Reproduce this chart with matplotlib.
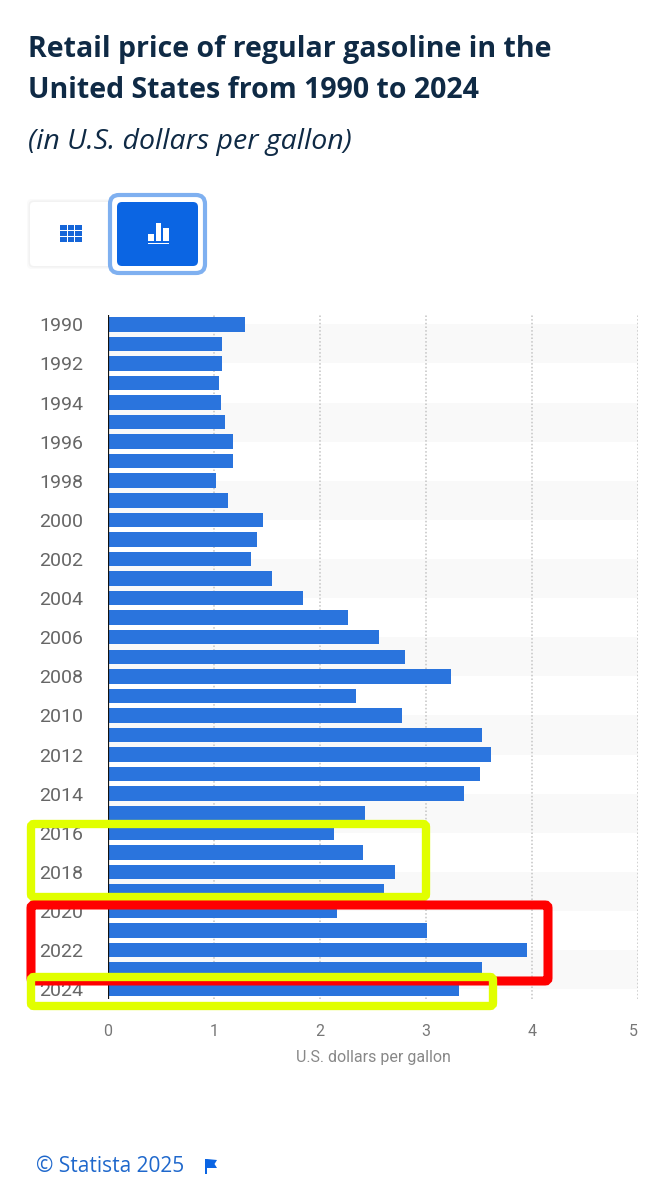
#!/usr/bin/env python3
import matplotlib.pyplot as plt
from matplotlib.patches import FancyBboxPatch, Polygon, Rectangle

WIDTH, HEIGHT = 669, 1200

years = list(range(1990, 2025))
prices = [
    1.29, 1.08, 1.08, 1.05, 1.07, 1.10, 1.18, 1.18, 1.02, 1.13,
    1.46, 1.41, 1.35, 1.55, 1.84, 2.26, 2.56, 2.80, 3.24, 2.34,
    2.77, 3.53, 3.61, 3.51, 3.36, 2.42, 2.13, 2.41, 2.71, 2.60,
    2.16, 3.01, 3.95, 3.53, 3.31,
]
year_labels = years[::2]
x_ticks = [0, 1, 2, 3, 4, 5]

BLUE = "#2A74DD"
BUTTON_BLUE = "#0B65E3"
NAVY = "#0F2A45"
LIME = "#E1FF00"
RED = "#FF0000"


def px_axes_rect(left, top, right, bottom):
    return [left / WIDTH, 1 - bottom / HEIGHT, (right - left) / WIDTH, (bottom - top) / HEIGHT]


def rounded(ax, left, top, right, bottom, radius=3, **kwargs):
    patch = FancyBboxPatch(
        (left, top), right - left, bottom - top,
        boxstyle=f"round,pad=0,rounding_size={radius}", **kwargs,
    )
    ax.add_patch(patch)
    return patch


fig = plt.figure(figsize=(WIDTH / 100, HEIGHT / 100), dpi=100, facecolor="white")

# chart
ax = fig.add_axes(px_axes_rect(108, 314.5, 638, 999))
ax.set_xlim(0, 5)
ax.set_ylim(years[-1] + 0.5, years[0] - 0.5)
for start in years[::4]:
    ax.axhspan(start, start + 2, color="#F9F9F9", linewidth=0, zorder=0)
for tick in x_ticks[1:]:
    ax.axvline(tick, color="#C4C4C4", linewidth=1.1, linestyle=(0, (1, 1.4)), zorder=1)
ax.barh(years, prices, height=0.74, color=BLUE, zorder=2)
ax.axvline(0, color="#111111", linewidth=1.6, zorder=3)

for side in ("top", "right", "bottom", "left"):
    ax.spines[side].set_visible(False)
ax.set_yticks(year_labels)
ax.set_yticklabels(year_labels, fontfamily="Roboto", fontsize=14, color="#666666")
ax.set_xticks(x_ticks)
ax.set_xticklabels(x_ticks, fontfamily="Roboto", fontsize=11.5, color="#777777")
ax.get_xticklabels()[-1].set_ha("right")
ax.tick_params(axis="y", length=0, pad=18)
ax.tick_params(axis="x", length=0, pad=18)
ax.set_xlabel("U.S. dollars per gallon", fontfamily="Roboto", fontsize=11.5, color="#888888", labelpad=14)
ax.xaxis.set_label_coords(0.50, -0.0745)

# everything that is not data, in reference pixels
over = fig.add_axes([0, 0, 1, 1], zorder=5)
over.set_xlim(0, WIDTH)
over.set_ylim(HEIGHT, 0)
over.axis("off")
over.patch.set_alpha(0)

over.text(28, 49, "Retail price of regular gasoline in the", fontfamily="Open Sans",
          fontweight="bold", fontsize=20.5, color=NAVY, va="center")
over.text(28, 91, "United States from 1990 to 2024", fontfamily="Open Sans",
          fontweight="bold", fontsize=20.5, color=NAVY, va="center")
over.text(28, 142, "(in U.S. dollars per gallon)", fontfamily="Open Sans",
          fontstyle="italic", fontsize=20.5, color=NAVY, va="center")

# view switch buttons
for grow, shade in ((3, "#FAFAFA"), (1.5, "#F2F2F2")):
    rounded(over, 30 - grow, 202 - grow, 112 + grow, 266 + grow, radius=5, facecolor=shade, linewidth=0)
rounded(over, 30, 202, 112, 266, radius=4, facecolor="white", linewidth=0)
rounded(over, 110, 195, 205, 273, radius=9, facecolor="white", edgecolor="#7FB0F0", linewidth=3)
rounded(over, 117, 202, 198, 266, radius=5, facecolor=BUTTON_BLUE, linewidth=0)

for col in range(3):
    for row in range(3):
        over.add_patch(Rectangle((60 + col * 7.6, 224.5 + row * 6.2), 6.6, 5.2, facecolor="#1565D8", linewidth=0))
for left, top in ((148, 234), (155.5, 223), (163, 228)):
    over.add_patch(Rectangle((left, top), 5.5, 241 - top, facecolor="white", linewidth=0))
over.add_patch(Rectangle((147.5, 242.5), 21.5, 1.8, facecolor="white", linewidth=0))

# hand-drawn highlights on top of the chart
rounded(over, 31, 824, 426, 897, facecolor="none", edgecolor=LIME, linewidth=6)
rounded(over, 31, 905, 548, 981, facecolor="none", edgecolor=RED, linewidth=6.5)
rounded(over, 31, 977, 493, 1006, facecolor="none", edgecolor=LIME, linewidth=6)

# footer
over.text(36, 1166, "© Statista 2025", fontfamily="Open Sans", fontsize=15, color="#1F68CC", va="center")
over.add_patch(Rectangle((205, 1159), 2, 15, facecolor="#0B65E3", linewidth=0))
over.add_patch(Polygon([(207, 1159), (217, 1160), (214.5, 1164), (217, 1168), (207, 1168)],
                       closed=True, facecolor="#0B65E3", linewidth=0))

fig.savefig("out.png", dpi=100, facecolor="white")
